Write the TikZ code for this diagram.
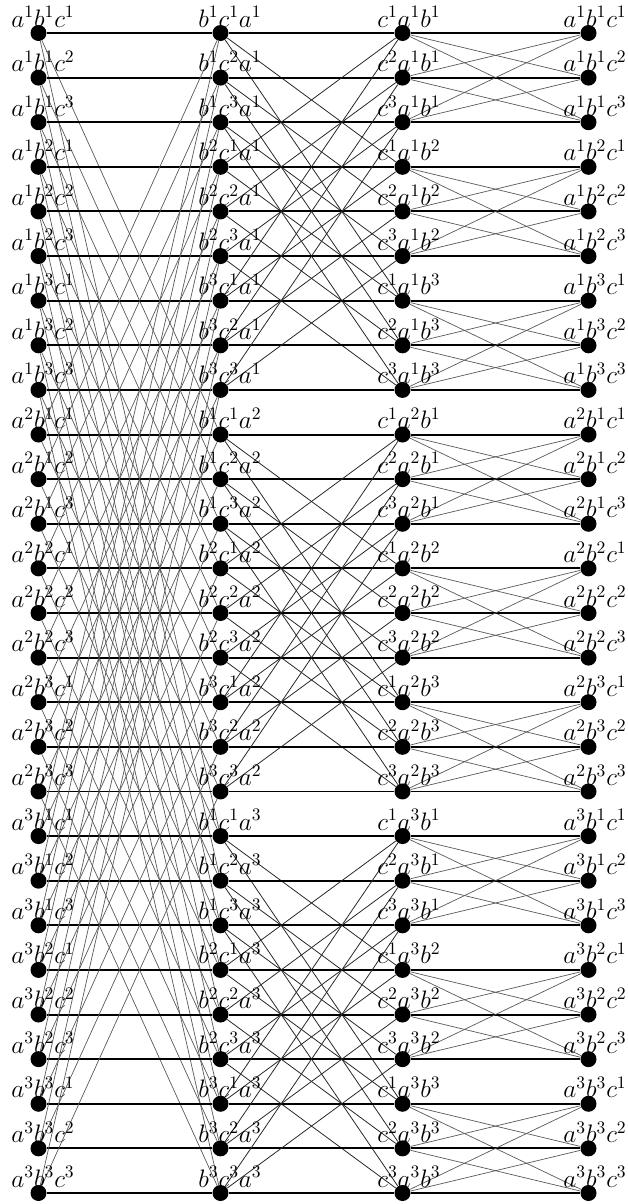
\documentclass[tikz,border=0pt]{standalone}
\pgfdeclarelayer{bg}
\pgfsetlayers{bg,main}
\begin{document}
\begin{tikzpicture}[x=0.02cm,y=-0.02cm,
  dot/.style={circle,fill=black,inner sep=0pt,minimum size=0.32cm},
  thickline/.style={line width=1.1pt},
  thinline/.style={line width=0.45pt,black!85},
  faintline/.style={line width=0.4pt,black!65},
  lbl/.style={anchor=base,inner sep=0pt,font=\fontsize{14.5}{17}\selectfont}]
\useasboundingbox (0,0) rectangle (627,1204);
\foreach \i in {1,2,3}{\foreach \j in {1,2,3}{\foreach \k in {1,2,3}{
  \pgfmathtruncatemacro\r{9*(\i-1)+3*(\j-1)+(\k-1)}
  \pgfmathsetmacro\yy{33+\r*44.615}
  \pgfmathsetmacro\ly{\yy-6}
  \node[dot] (A\i\j\k) at (38.5,\yy) {};
  \node[dot] (B\i\j\k) at (220.5,\yy) {};
  \node[dot] (C\i\j\k) at (402.5,\yy) {};
  \node[dot] (D\i\j\k) at (588.5,\yy) {};
  \node[lbl] (LA\i\j\k) at (43,\ly) {$a^{\i}b^{\j}c^{\k}$};
  \node[lbl] (LB\i\j\k) at (230,\ly) {$b^{\j}c^{\k}a^{\i}$};
  \node[lbl] (LC\i\j\k) at (409,\ly) {$c^{\k}a^{\i}b^{\j}$};
  \node[lbl] (LD\i\j\k) at (595,\ly) {$a^{\i}b^{\j}c^{\k}$};
}}}
\begin{pgfonlayer}{bg}
\foreach \i in {1,2,3}{\foreach \j in {1,2,3}{\foreach \k in {1,2,3}{
  \foreach \m in {1,2,3}{
    \ifnum\m=\i
      \draw[thickline] (A\i\j\k) -- (B\m\j\k);
    \else
      \draw[faintline] (A\i\j\k) -- (B\m\j\k);
    \fi
    \ifnum\m=\j
      \draw[thickline] (B\i\j\k) -- (C\i\m\k);
    \else
      \draw[thinline] (B\i\j\k) -- (C\i\m\k);
    \fi
    \ifnum\m=\k
      \draw[thickline] (C\i\j\k) -- (D\i\j\m);
    \else
      \draw[faintline] (C\i\j\k) -- (D\i\j\m);
    \fi
  }
}}}
\end{pgfonlayer}
\end{tikzpicture}
\end{document}
